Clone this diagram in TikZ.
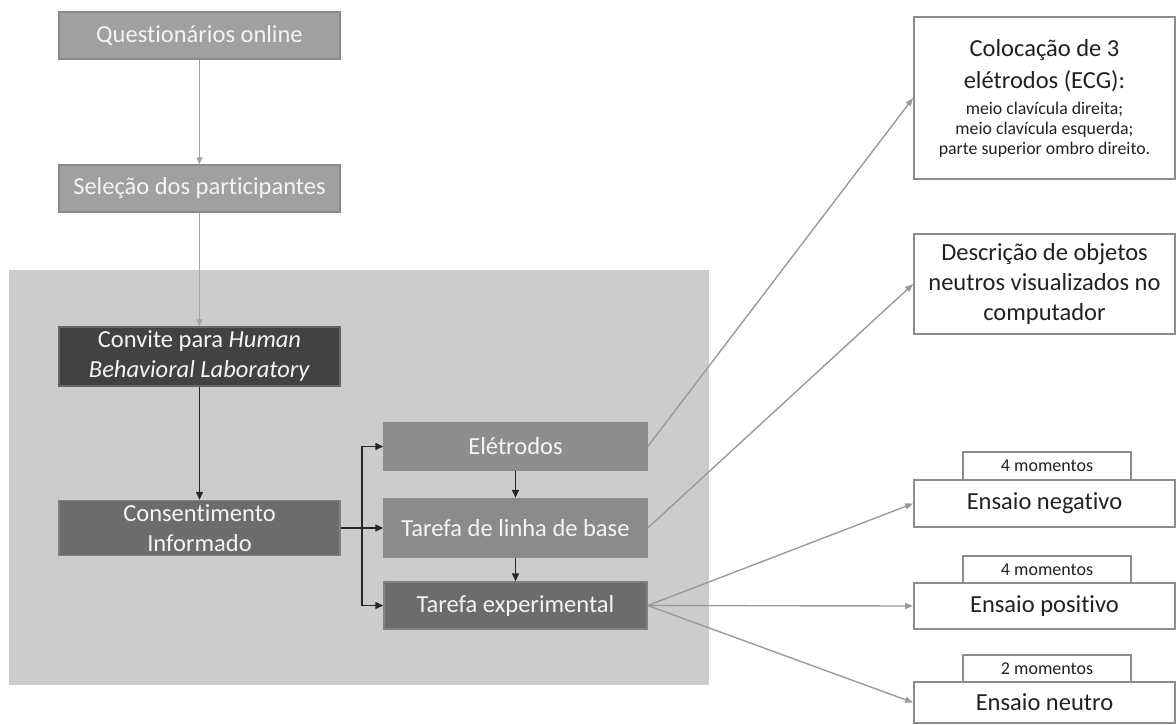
\documentclass[tikz,border=0pt]{standalone}
\usepackage{fontspec}
\setmainfont{Carlito}[Ligatures={NoCommon,NoContextual}]
\usetikzlibrary{arrows.meta}
\definecolor{bggray}{HTML}{CCCCCC}
\definecolor{lightbox}{HTML}{A0A0A0}
\definecolor{lightedge}{HTML}{8A8A8A}
\definecolor{darkbox}{HTML}{424242}
\definecolor{midbox}{HTML}{6C6C6C}
\definecolor{elebox}{HTML}{8E8E8E}
\definecolor{tlbbox}{HTML}{8B8B8B}
\definecolor{boxtext}{HTML}{F4F4F4}
\definecolor{rightedge}{HTML}{8C8C8C}
\definecolor{grayline}{HTML}{A3A3A3}
\definecolor{grayarrow}{HTML}{9A9A9A}
\newcommand{\smalltxt}{\fontsize{17.8}{20}\selectfont}
\tikzset{
  x=1pt, y=-1pt,
  bigfont/.style={font=\fontsize{24.5}{30}\selectfont},
  leftbox/.style={draw=lightedge, line width=1.5pt, align=center, text=boxtext, inner sep=0pt, bigfont},
  rightbox/.style={draw=rightedge, line width=1.8pt, fill=white, align=center, text=black!87, inner sep=0pt, bigfont},
  tabbox/.style={draw=rightedge, line width=1.8pt, fill=white, align=center, text=black!87, inner sep=0pt, font=\fontsize{18}{22}\selectfont},
  grayconn/.style={draw=grayline, line width=1.4pt, -{Triangle[length=7pt,width=6pt]}},
  blackconn/.style={draw=black!85, line width=1.5pt, -{Triangle[length=8pt,width=7pt]}},
  rightconn/.style={draw=grayarrow, line width=1.4pt, -{Triangle[length=8pt,width=6pt]}},
}
\begin{document}
\begin{tikzpicture}
\useasboundingbox (0,0) rectangle (1176,724);
% background panel
\fill[bggray] (9,270) rectangle (709,685);
% left column
\node[leftbox, fill=lightbox, minimum width=281pt, minimum height=47pt] (q) at (199.5,35.5) {Questionários online};
\node[leftbox, fill=lightbox, minimum width=281pt, minimum height=47pt] (sel) at (199.5,188.5) {Seleção dos participantes};
\node[leftbox, fill=darkbox, draw=black!60, minimum width=281pt, minimum height=59pt] (conv) at (199.5,356.5) {Convite para \textit{Human}\\\textit{Behavioral Laboratory}};
\node[leftbox, fill=midbox, draw=black!50, minimum width=281pt, minimum height=55pt] (cons) at (199.5,528) {Consentimento\\Informado};
% middle column
\node[leftbox, fill=elebox, draw=black!45, minimum width=263pt, minimum height=47pt] (ele) at (515.5,446.5) {Elétrodos};
\node[leftbox, fill=tlbbox, draw=black!45, minimum width=263pt, minimum height=59pt] (tlb) at (515.5,528) {Tarefa de linha de base};
\node[leftbox, fill=midbox, draw=black!50, minimum width=263pt, minimum height=47pt] (tex) at (515.5,605.5) {Tarefa experimental};
% right column
\node[rightbox, font=\fontsize{24.5}{32}\selectfont, minimum width=261pt, minimum height=162pt] (r1) at (1044.5,98) {Colocação de 3\\elétrodos (ECG):\\[-6pt]{\smalltxt meio clavícula direita;}\\[-12pt]{\smalltxt meio clavícula esquerda;}\\[-12pt]{\smalltxt parte superior ombro direito.}};
\node[rightbox, minimum width=261pt, minimum height=100pt] (r2) at (1044.5,284) {Descrição de objetos\\neutros visualizados no\\computador};
\node[tabbox, minimum width=168pt, minimum height=28pt] (t1) at (1047,466) {4 momentos};
\node[rightbox, minimum width=261pt, minimum height=47pt] (n1) at (1044.5,503.5) {Ensaio negativo};
\node[tabbox, minimum width=168pt, minimum height=28pt] (t2) at (1047,570) {4 momentos};
\node[rightbox, minimum width=261pt, minimum height=46pt] (n2) at (1044.5,606) {Ensaio positivo};
\node[tabbox, minimum width=168pt, minimum height=27pt] (t3) at (1047,668.5) {2 momentos};
\node[rightbox, minimum width=261pt, minimum height=41pt] (n3) at (1044.5,702.5) {Ensaio neutro};
% connectors
\draw[grayconn] (q.south) -- (sel.north);
\draw[grayconn] (sel.south) -- (conv.north);
\draw[blackconn] (conv.south) -- (cons.north);
\coordinate (j) at (362,528);
\draw[blackconn] (cons.east) -- (tlb.west);
\draw[blackconn] (j) |- (ele.west);
\draw[blackconn] (j) |- (tex.west);
\draw[blackconn] (ele.south) -- (tlb.north);
\draw[blackconn] (tlb.south) -- (tex.north);
\draw[rightconn] (ele.east) -- (r1.west);
\draw[rightconn] (tlb.east) -- (r2.west);
\draw[rightconn] (tex.east) -- (n1.west);
\draw[rightconn] (tex.east) -- (n2.west);
\draw[rightconn] (tex.east) -- (n3.west);
\end{tikzpicture}
\end{document}
